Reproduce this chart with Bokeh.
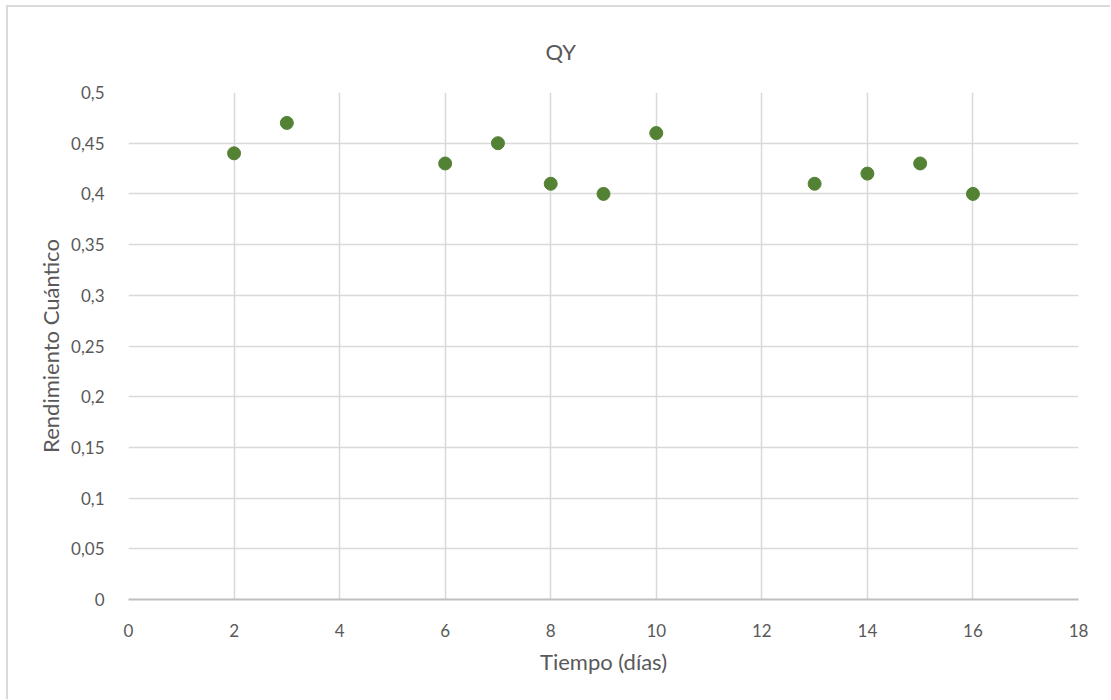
from bokeh.plotting import figure
from bokeh.models import ColumnDataSource, FixedTicker
from bokeh.embed import file_html
from bokeh.resources import INLINE

# Quantum yield measurements over time
dias = [2, 3, 6, 7, 8, 9, 10, 13, 14, 15, 16]
qy = [0.44, 0.47, 0.43, 0.45, 0.41, 0.40, 0.46, 0.41, 0.42, 0.43, 0.40]

x_ticks = list(range(0, 19, 2))
y_ticks = [0, 0.05, 0.1, 0.15, 0.2, 0.25, 0.3, 0.35, 0.4, 0.45, 0.5]
y_labels = ["0", "0,05", "0,1", "0,15", "0,2", "0,25", "0,3", "0,35", "0,4", "0,45", "0,5"]

FONT = "Lato"
TXT = "#595959"
GRID = "#d9d9d9"

source = ColumnDataSource(data=dict(x=dias, y=qy))

p = figure(
    width=1104, height=694,
    margin=(5, 0, 0, 6),
    x_range=(0, 18), y_range=(0, 0.5),
    output_backend="svg", toolbar_location=None,
    title="QY",
    min_border_left=120, min_border_right=34,
    min_border_top=85, min_border_bottom=102,
    styles={"border-top": "2px solid #d9d9d9", "border-left": "2px solid #d9d9d9"},
)

p.outline_line_color = None
p.background_fill_color = "white"
p.border_fill_color = "white"

# title centred over the whole chart rather than the plot frame
p.title.align = "left"
p.title.offset = 417
p.title.text_font = FONT
p.title.text_font_size = "22px"
p.title.text_font_style = "normal"
p.title.text_color = TXT
p.title.standoff = 56

p.xaxis.ticker = FixedTicker(ticks=x_ticks)
p.yaxis.ticker = FixedTicker(ticks=y_ticks)
p.yaxis.major_label_overrides = {t: l for t, l in zip(y_ticks, y_labels)}

for ax in (p.xaxis, p.yaxis):
    ax.major_tick_line_color = None
    ax.minor_tick_line_color = None
    ax.major_label_text_font = FONT
    ax.major_label_text_font_size = "17px"
    ax.major_label_text_color = TXT
    ax.axis_label_text_font = FONT
    ax.axis_label_text_font_size = "22px"
    ax.axis_label_text_font_style = "normal"
    ax.axis_label_text_color = TXT
    ax.major_label_standoff = 18

p.xaxis.axis_label = "Tiempo (días)"
p.yaxis.axis_label = "Rendimiento Cuántico"
p.xaxis.axis_line_color = "#bfbfbf"
p.xaxis.axis_line_width = 2
p.yaxis.axis_line_color = None
p.xaxis.axis_label_standoff = 8
p.yaxis.axis_label_standoff = 4

p.xgrid.grid_line_color = GRID
p.ygrid.grid_line_color = GRID
p.xgrid.grid_line_width = 1.5
p.ygrid.grid_line_width = 1.5

p.scatter("x", "y", source=source, size=13, fill_color="#548235",
          line_color="#548235", marker="circle")

open("out.html", "w").write(file_html(p, INLINE))
